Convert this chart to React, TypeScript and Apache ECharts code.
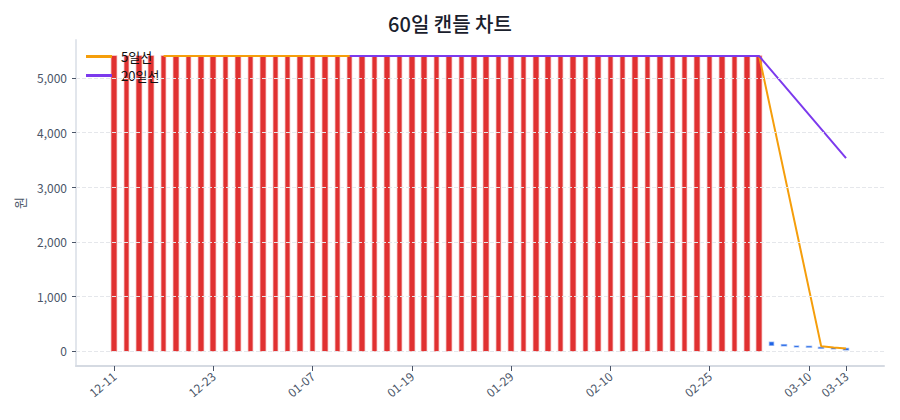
import React, { useEffect, useRef } from 'react';
import * as echarts from 'echarts';

// 거래일 (60일)
const dates = [
  '12-11', '12-12', '12-15', '12-16', '12-17', '12-18', '12-19', '12-22', '12-23', '12-24',
  '12-26', '12-29', '12-30', '01-02', '01-05', '01-06', '01-07', '01-08', '01-09', '01-12',
  '01-13', '01-14', '01-15', '01-16', '01-19', '01-20', '01-21', '01-22', '01-23', '01-26',
  '01-27', '01-28', '01-29', '01-30', '02-02', '02-03', '02-04', '02-05', '02-06', '02-09',
  '02-10', '02-11', '02-12', '02-13', '02-19', '02-20', '02-23', '02-24', '02-25', '02-26',
  '02-27', '03-03', '03-04', '03-05', '03-06', '03-09', '03-10', '03-11', '03-12', '03-13',
];

// 53일 동안 0 → 5,400, 이후 소액 하락
const opens = [
  ...Array(53).fill(0),
  160, 115, 90, 85, 65, 55, 45,
];
const closes = [
  ...Array(53).fill(5400),
  105, 95, 75, 70, 50, 40, 20,
];
const lows = [
  ...Array(53).fill(0),
  105, 95, 75, 70, 50, 40, 20,
];
const highs = [
  ...Array(53).fill(5400),
  160, 115, 90, 85, 65, 55, 45,
];

const ma5 = [
  null, null, null, null,
  ...Array(49).fill(5400),
  null, null, null, null, 85, 62, 45,
];
const ma20 = [
  ...Array(19).fill(null),
  ...Array(34).fill(5400),
  null, null, null, null, null, null, 3530,
];

const tickIndices = [0, 8, 16, 24, 32, 40, 48, 56, 59];
const yTicks = [0, 1000, 2000, 3000, 4000, 5000];

const FONT = '"Noto Sans CJK KR", "Noto Sans", sans-serif';

const App = () => {
  const chartRef = useRef<HTMLDivElement>(null);

  useEffect(() => {
    if (!chartRef.current) return;
    const chart = echarts.init(chartRef.current, null, { renderer: 'svg' });

    const candles = dates.map((_, i) => [i, opens[i], closes[i], lows[i], highs[i]]);
    const toLine = (arr: (number | null)[]) => arr.map((v, i) => [i, v]);

    chart.setOption({
      animation: false,
      textStyle: { fontFamily: FONT },
      title: {
        text: '60일 캔들 차트',
        left: 'center',
        top: 8,
        textStyle: { fontSize: 20, fontWeight: 500, color: '#1a202c', fontFamily: FONT },
      },
      legend: {
        orient: 'vertical',
        left: 86,
        top: 49,
        padding: 0,
        icon: 'rect',
        itemWidth: 26,
        itemHeight: 3,
        itemGap: 4,
        data: ['5일선', '20일선'],
        textStyle: {
          fontSize: 13,
          lineHeight: 15,
          color: '#111',
          fontFamily: FONT,
          padding: [0, 0, 0, 4],
        },
      },
      grid: { left: 76, right: 16, top: 40, bottom: 54 },
      xAxis: {
        type: 'value',
        min: -3.06,
        max: 62.06,
        axisLine: { show: true, onZero: false, lineStyle: { color: '#d5dae2', width: 2 } },
        axisTick: {
          show: true,
          customValues: tickIndices,
          length: 5,
          lineStyle: { color: '#4a5568' },
        },
        axisLabel: {
          customValues: tickIndices,
          rotate: 40,
          fontSize: 12,
          color: '#4a5568',
          margin: 8,
          formatter: (v: number) => dates[Math.round(v)] ?? '',
        },
        splitLine: { show: false },
      },
      yAxis: {
        type: 'value',
        min: -275,
        max: 5695,
        name: '원',
        nameLocation: 'middle',
        nameRotate: 90,
        nameGap: 50,
        nameTextStyle: { fontSize: 13, color: '#4a5568', fontFamily: FONT },
        axisLine: { show: true, onZero: false, lineStyle: { color: '#e2e6ec', width: 2 } },
        axisTick: {
          show: true,
          customValues: yTicks,
          length: 4,
          lineStyle: { color: '#4a5568' },
        },
        axisLabel: {
          customValues: yTicks,
          fontSize: 12,
          color: '#4a5568',
          margin: 9,
          formatter: (v: number) => v.toLocaleString('en-US'),
        },
        splitLine: { show: false },
      },
      series: [
        {
          type: 'candlestick',
          name: '캔들',
          data: candles,
          encode: { x: 0, y: [1, 2, 3, 4] },
          barWidth: 5,
          itemStyle: {
            color: '#e03131',
            color0: '#1f63e6',
            borderColor: 'rgba(224,49,49,0.4)',
            borderColor0: 'rgba(31,99,230,0.4)',
            borderWidth: 1.5,
          },
          z: 2,
        },
        {
          type: 'line',
          name: '_grid',
          silent: true,
          data: [],
          markLine: {
            silent: true,
            symbol: 'none',
            label: { show: false },
            lineStyle: { color: '#e5e7eb', type: 'dashed', width: 1 },
            data: yTicks.map((v) => ({ yAxis: v })),
          },
          z: 1,
        },
        {
          type: 'line',
          name: '5일선',
          data: toLine(ma5),
          connectNulls: true,
          symbol: 'none',
          lineStyle: { color: '#f59e0b', width: 2 },
          itemStyle: { color: '#f59e0b' },
          z: 3,
        },
        {
          type: 'line',
          name: '20일선',
          data: toLine(ma20),
          connectNulls: true,
          symbol: 'none',
          lineStyle: { color: '#7c3aed', width: 2 },
          itemStyle: { color: '#7c3aed' },
          z: 3,
        },
      ],
    });

    return () => {
      chart.dispose();
    };
  }, []);

  return <div ref={chartRef} style={{ width: 900, height: 420, margin: -8 }} />;
};

export default App;
